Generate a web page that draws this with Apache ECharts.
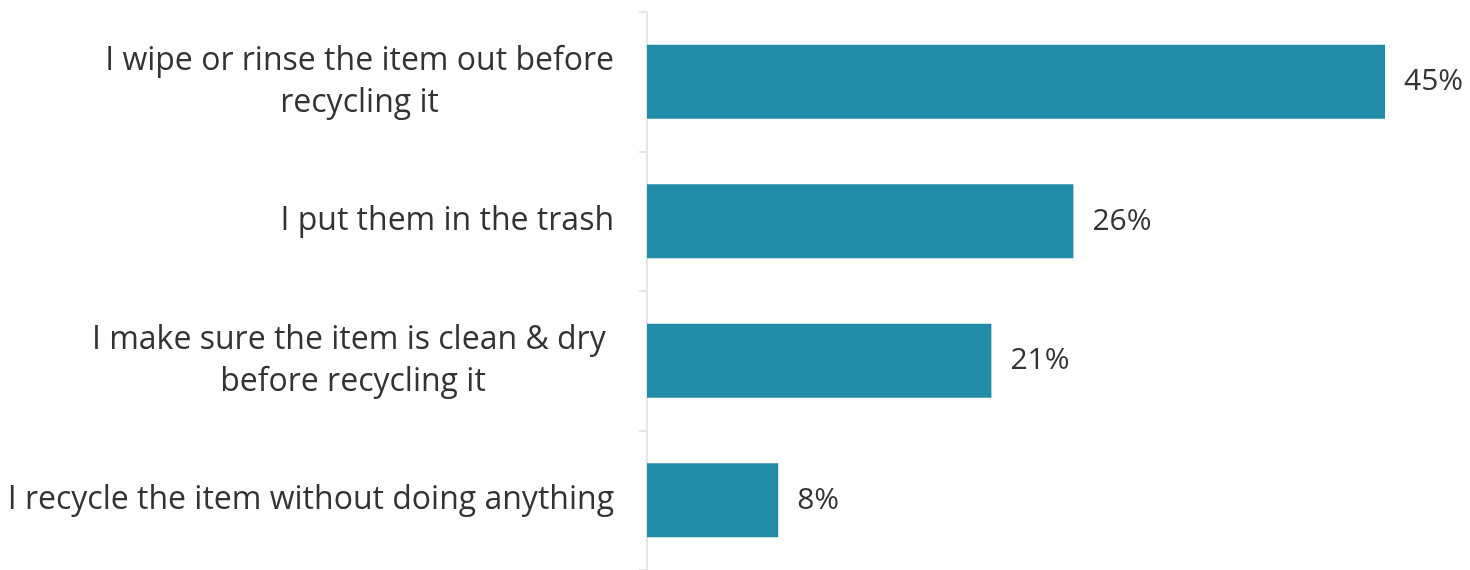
<!DOCTYPE html>
<html>
<head>
<meta charset="utf-8">
<style>
  html, body { margin: 0; padding: 0; background: #ffffff; }
  #chart { width: 1470px; height: 570px; }
</style>
<script src="https://cdn.jsdelivr.net/npm/echarts@6/dist/echarts.min.js"></script>
</head>
<body>
<div id="chart"></div>
<script>
// Responses, listed top to bottom
const categories = [
  'I wipe or rinse the item out before\nrecycling it',
  'I put them in the trash',
  'I make sure the item is clean & dry \nbefore recycling it',
  'I recycle the item without doing anything'
];
// Share of respondents (%)
const values = [45, 26, 21, 8];

const chart = echarts.init(document.getElementById('chart'));

chart.setOption({
  animation: false,
  grid: { left: 647, right: 3, top: 12, bottom: -2, containLabel: false },
  xAxis: {
    type: 'value',
    min: 0,
    max: 50,
    show: false
  },
  yAxis: {
    type: 'category',
    data: categories,
    inverse: true,
    axisLine: { show: true, lineStyle: { color: '#e6e6e6', width: 2 } },
    axisTick: { show: true, length: 8, lineStyle: { color: '#e6e6e6', width: 2 } },
    splitLine: { show: false },
    axisLabel: {
      margin: 33,
      align: 'right',
      formatter: function (v) {
        return v.split('\n').map(function (l) { return '{c|' + l + '}'; }).join('\n');
      },
      rich: {
        c: {
          align: 'center',
          fontFamily: 'Open Sans',
          fontSize: 32,
          lineHeight: 42,
          color: '#333333'
        }
      }
    }
  },
  series: [{
    type: 'bar',
    data: values,
    barWidth: 74,
    itemStyle: { color: '#218CA8' },
    label: {
      show: true,
      position: 'right',
      distance: 19,
      formatter: '{c}%',
      fontFamily: 'Open Sans',
      fontSize: 30,
      color: '#333333'
    }
  }]
});
</script>
</body>
</html>
